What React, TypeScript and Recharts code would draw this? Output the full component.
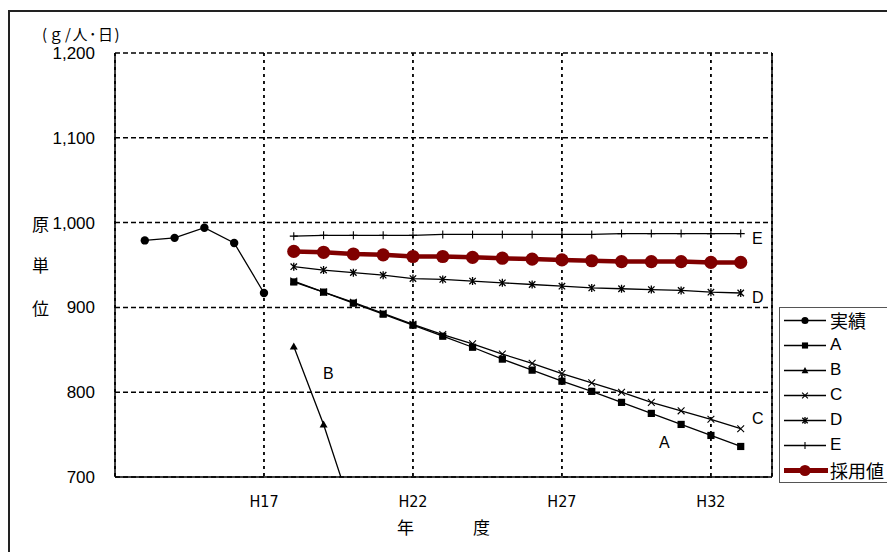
import React from 'react'
import { CartesianGrid, Line, LineChart, ReferenceLine, XAxis, YAxis } from 'recharts'

// 年度 (H13〜H33)
const YEARS = [13, 14, 15, 16, 17, 18, 19, 20, 21, 22, 23, 24, 25, 26, 27, 28, 29, 30, 31, 32, 33]
const ACTUAL_YEARS = [13, 14, 15, 16, 17]
const FORECAST_YEARS = [18, 19, 20, 21, 22, 23, 24, 25, 26, 27, 28, 29, 30, 31, 32, 33]
const B_YEARS = [18, 19, 20]

const ACTUAL = [979, 982, 994, 976, 917]
const SERIES_A = [930, 918, 905, 892, 879, 866, 853, 839, 826, 813, 801, 788, 775, 762, 749, 736]
const SERIES_B = [854, 762, 655]
const SERIES_C = [931, 918, 906, 893, 880, 868, 857, 845, 834, 822, 811, 800, 788, 778, 768, 757]
const SERIES_D = [948, 944, 941, 938, 934, 933, 931, 929, 927, 925, 923, 922, 921, 920, 918, 917]
const SERIES_E = [984, 985, 985, 985, 985, 986, 986, 986, 986, 986, 986, 987, 987, 987, 987, 987]
const ADOPTED = [966, 965, 963, 962, 960, 960, 959, 958, 957, 956, 955, 954, 954, 954, 953, 953]

const X_TICKS = [17, 22, 27, 32]
const Y_TICKS = [700, 800, 900, 1000, 1100, 1200]
const X_MIN = 12
const X_MAX = 34.05

const LATIN = "'Liberation Sans', Arial, sans-serif"
const NARROW = "'Liberation Sans Narrow', 'DejaVu Sans Condensed', 'Liberation Sans', Arial, sans-serif"
const CJK = "'Noto Sans CJK JP', 'Noto Sans', sans-serif"
const RED = '#800000'

type Kind = 'circle' | 'square' | 'triangle' | 'cross' | 'star' | 'plus' | 'big'

interface SeriesDef {
  key: string
  name: string
  kind: Kind
  years: number[]
  values: number[]
}

const SERIES: SeriesDef[] = [
  { key: 'actual', name: '実績', kind: 'circle', years: ACTUAL_YEARS, values: ACTUAL },
  { key: 'a', name: 'A', kind: 'square', years: FORECAST_YEARS, values: SERIES_A },
  { key: 'b', name: 'B', kind: 'triangle', years: B_YEARS, values: SERIES_B },
  { key: 'c', name: 'C', kind: 'cross', years: FORECAST_YEARS, values: SERIES_C },
  { key: 'd', name: 'D', kind: 'star', years: FORECAST_YEARS, values: SERIES_D },
  { key: 'e', name: 'E', kind: 'plus', years: FORECAST_YEARS, values: SERIES_E },
  { key: 'adopted', name: '採用値', kind: 'big', years: FORECAST_YEARS, values: ADOPTED },
]

const data = YEARS.map((year) => {
  const row: Record<string, number> = { year }
  SERIES.forEach((s) => {
    const i = s.years.indexOf(year)
    if (i >= 0) row[s.key] = s.values[i]
  })
  return row
})

function Marker({ kind, cx, cy, legend }: { kind: Kind, cx: number, cy: number, legend?: boolean }) {
  const k = legend ? 0.85 : 1
  switch (kind) {
    case 'circle':
      return <circle cx={cx} cy={cy} r={4.2 * k} fill="#000" />
    case 'square': {
      const h = 3.6 * k
      return <rect x={cx - h} y={cy - h} width={h * 2} height={h * 2} fill="#000" />
    }
    case 'triangle': {
      const h = 4 * k
      return <path d={`M${cx},${cy - h} L${cx + h},${cy + h * 0.8} L${cx - h},${cy + h * 0.8} Z`} fill="#000" />
    }
    case 'cross': {
      const h = 3.4 * k
      return (
        <path d={`M${cx - h},${cy - h} L${cx + h},${cy + h} M${cx + h},${cy - h} L${cx - h},${cy + h}`} stroke="#000" strokeWidth={1.1} />
      )
    }
    case 'star': {
      const h = 3.2 * k
      return (
        <path
          d={`M${cx - h},${cy - h} L${cx + h},${cy + h} M${cx + h},${cy - h} L${cx - h},${cy + h} M${cx},${cy - h - 0.8} L${cx},${cy + h + 0.8}`}
          stroke="#000"
          strokeWidth={1.3}
        />
      )
    }
    case 'plus': {
      const h = 4 * k
      return <path d={`M${cx},${cy - h} L${cx},${cy + h} M${cx - h},${cy} L${cx + h},${cy}`} stroke="#000" strokeWidth={1.1} />
    }
    case 'big':
      return <circle cx={cx} cy={cy} r={6.6 * k} fill={RED} />
  }
  return null
}

function dotFor(kind: Kind) {
  return (p: any) => {
    if (p.cx == null || p.cy == null || p.value == null) return <g key={p.index} />
    return <Marker key={p.index} kind={kind} cx={p.cx} cy={p.cy} />
  }
}

const textStyle = (font: string, size: number): React.CSSProperties => ({
  position: 'absolute',
  fontFamily: font,
  fontSize: size,
  lineHeight: 1,
  color: '#000',
  whiteSpace: 'nowrap',
})

export default function App() {
  return (
    <div style={{ position: 'absolute', left: 0, top: 0, width: 887, height: 552, overflow: 'hidden', background: '#fff' }}>
      <div style={{ position: 'absolute', left: 8, top: 10, width: 900, height: 600, borderLeft: '2px solid #222', borderTop: '2px solid #222' }} />

      <LineChart width={887} height={552} data={data} margin={{ top: 53, right: 115, bottom: 0, left: 0 }} style={{ position: 'absolute', left: 0, top: 0 }}>
        <CartesianGrid vertical={false} stroke="#000" strokeWidth={1.5} strokeDasharray="5 3" />
        <CartesianGrid horizontal={false} stroke="#000" strokeWidth={1.8} strokeDasharray="3 4" />
        <XAxis
          type="number"
          dataKey="year"
          domain={[X_MIN, X_MAX]}
          ticks={X_TICKS}
          allowDataOverflow
          height={75}
          tickLine={false}
          tickMargin={13}
          tickFormatter={(v: number) => `H${v}`}
          axisLine={{ stroke: '#000', strokeWidth: 1.5 }}
          tick={{ fill: '#000', fontSize: 16, fontFamily: NARROW }}
        />
        <YAxis
          domain={[700, 1200]}
          ticks={Y_TICKS}
          allowDataOverflow
          width={115}
          tickLine={false}
          tickMargin={14}
          tickFormatter={(v: number) => v.toLocaleString('en-US')}
          axisLine={{ stroke: '#000', strokeWidth: 1.5 }}
          tick={{ fill: '#000', fontSize: 17, fontFamily: LATIN }}
        />
        <ReferenceLine x={X_MAX} stroke="#000" strokeWidth={1.5} />
        {SERIES.map((s) => (
          <Line
            key={s.key}
            dataKey={s.key}
            name={s.name}
            stroke={s.kind === 'big' ? RED : '#000'}
            strokeWidth={s.kind === 'big' ? 4.5 : 1.3}
            dot={dotFor(s.kind)}
            activeDot={false}
            connectNulls={false}
            isAnimationActive={false}
          />
        ))}
      </LineChart>

      <div style={{ ...textStyle(CJK, 15), left: 42, top: 26, letterSpacing: 1.5 }}>(ｇ/人･日)</div>
      <div style={{ ...textStyle(CJK, 17), left: 32, top: 215 }}>原</div>
      <div style={{ ...textStyle(CJK, 17), left: 32, top: 256 }}>単</div>
      <div style={{ ...textStyle(CJK, 17), left: 32, top: 299 }}>位</div>
      <div style={{ ...textStyle(CJK, 17), left: 397, top: 518 }}>年</div>
      <div style={{ ...textStyle(CJK, 17), left: 473, top: 518 }}>度</div>

      <div style={{ ...textStyle(LATIN, 16), left: 752, top: 231 }}>E</div>
      <div style={{ ...textStyle(LATIN, 16), left: 752, top: 290 }}>D</div>
      <div style={{ ...textStyle(LATIN, 16), left: 752, top: 411 }}>C</div>
      <div style={{ ...textStyle(LATIN, 16), left: 659, top: 435 }}>A</div>
      <div style={{ ...textStyle(LATIN, 16), left: 323, top: 366 }}>B</div>

      <div style={{ position: 'absolute', left: 779, top: 307, width: 130, height: 174, border: '1.5px solid #555', background: '#fff' }}>
        {SERIES.map((s) => (
          <div key={s.key} style={{ position: 'relative', height: 25 }}>
            <svg width={50} height={25} style={{ position: 'absolute', left: 0, top: 0 }}>
              <line x1={4} y1={12.5} x2={s.kind === 'big' ? 48 : 46} y2={12.5} stroke={s.kind === 'big' ? RED : '#000'} strokeWidth={s.kind === 'big' ? 5 : 1.3} />
              <Marker kind={s.kind} cx={25} cy={12.5} legend />
            </svg>
            <span style={{ ...textStyle(s.name.length > 1 ? CJK : LATIN, s.name.length > 1 ? 18 : 17), left: 50, top: 3 }}>{s.name}</span>
          </div>
        ))}
      </div>
    </div>
  )
}
